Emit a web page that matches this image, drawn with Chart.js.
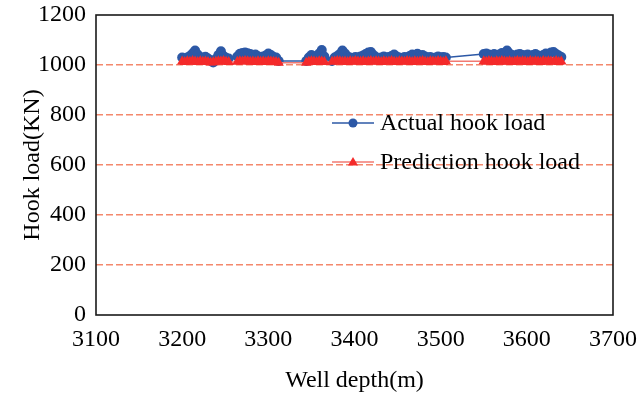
<!DOCTYPE html>
<html>
<head>
<meta charset="utf-8">
<script src="https://cdn.jsdelivr.net/npm/chart.js@4/dist/chart.umd.min.js"></script>
<style>
  html, body { margin: 0; padding: 0; background: #fff; }
  #wrap { width: 637px; height: 393px; position: relative; }
</style>
</head>
<body>
<div id="wrap"><canvas id="chart" width="637" height="393"></canvas></div>
<script>
// ---- data ----
const depth = [
  3200, 3203, 3206, 3209, 3212, 3215, 3218, 3221, 3224, 3227, 3230, 3233, 3236, 3239, 3242, 3245, 3248, 3251, 3254,
  3264, 3267, 3270, 3273, 3276, 3279, 3282, 3285, 3288, 3291, 3294, 3297, 3300, 3303, 3306, 3309, 3312,
  3344, 3347, 3350, 3353, 3356, 3359, 3362, 3365,
  3374, 3377, 3380, 3383, 3386, 3389, 3392, 3395, 3398, 3401, 3404, 3407, 3410, 3413, 3416, 3419, 3422, 3425, 3428, 3431, 3434, 3437, 3440,
  3443, 3446, 3449, 3452, 3455, 3458, 3461, 3464, 3467, 3470, 3473, 3476, 3479, 3482, 3485, 3488, 3491, 3494, 3497, 3500, 3503, 3506,
  3550, 3553, 3556, 3559, 3562, 3565, 3568, 3571, 3574, 3577, 3580, 3583, 3586, 3589, 3592, 3595, 3598, 3601, 3604, 3607, 3610, 3613, 3616,
  3619, 3622, 3625, 3628, 3631, 3634, 3637, 3640
];

const actualLoad = [
  1030, 1026, 1030, 1036, 1046, 1058, 1042, 1032, 1028, 1033, 1026, 1018, 1010, 1024, 1040, 1055, 1036, 1029, 1026,
  1034, 1045, 1048, 1050, 1047, 1044, 1040, 1042, 1035, 1030, 1034, 1038, 1046, 1040, 1032, 1030, 1016,
  1016, 1030, 1040, 1032, 1036, 1046, 1060, 1034,
  1016, 1030, 1036, 1044, 1058, 1046, 1034, 1030, 1028, 1032, 1030, 1034, 1038, 1044, 1050, 1052, 1040, 1032, 1028, 1030, 1034, 1030, 1032,
  1036, 1042, 1034, 1030, 1028, 1032, 1030, 1036, 1042, 1038, 1045, 1036, 1040, 1034, 1030, 1032, 1028, 1030, 1034, 1030, 1032, 1030,
  1044, 1046, 1042, 1040, 1044, 1038, 1042, 1048, 1040, 1058, 1046, 1040, 1036, 1042, 1044, 1040, 1038, 1042, 1036, 1040, 1044, 1038, 1036,
  1040, 1046, 1042, 1050, 1052, 1044, 1038, 1032
];

const predLoad = [
  1014, 1012, 1015, 1013, 1016, 1014, 1012, 1015, 1013, 1014, 1012, 1010, 1011, 1013, 1015, 1014, 1016, 1013, 1012,
  1013, 1015, 1014, 1016, 1015, 1013, 1014, 1012, 1015, 1013, 1014, 1012, 1015, 1014, 1013, 1012, 1009,
  1009, 1013, 1015, 1014, 1012, 1015, 1014, 1012,
  1013, 1014, 1016, 1015, 1013, 1014, 1012, 1015, 1013, 1016, 1014, 1013, 1015, 1012, 1014, 1016, 1013, 1015, 1014, 1012, 1015, 1013, 1014,
  1016, 1013, 1012, 1015, 1014, 1013, 1016, 1014, 1012, 1015, 1013, 1014, 1016, 1013, 1012, 1015, 1014, 1013, 1016, 1014, 1012, 1015,
  1015, 1013, 1016, 1014, 1012, 1015, 1013, 1016, 1014, 1013, 1015, 1012, 1014, 1016, 1013, 1015, 1014, 1012, 1016, 1013, 1015, 1014, 1012,
  1016, 1013, 1015, 1014, 1013, 1016, 1012, 1014
];

const seriesNames = ['Actual hook load', 'Prediction hook load'];
const xRange = [3100, 3700];
const yRange = [0, 1200];

const blue = '#2C58A6';
const red = '#F42A2A';
const redLine = '#F27A72';
const gridColor = '#F4886C';

// frame around the plot area + legend inside it
const framePlugin = {
  id: 'frame',
  afterDraw(chart) {
    const { ctx, chartArea: a } = chart;
    ctx.save();
    ctx.strokeStyle = '#1a1a1a';
    ctx.lineWidth = 1.6;
    ctx.strokeRect(a.left, a.top, a.right - a.left, a.bottom - a.top);

    // legend
    const rows = [
      { y: 123, line: blue, fill: blue, style: 'circle' },
      { y: 162, line: redLine, fill: red, style: 'triangle' }
    ];
    rows.forEach((r, i) => {
      ctx.strokeStyle = r.line;
      ctx.lineWidth = 1.5;
      ctx.beginPath();
      ctx.moveTo(332, r.y);
      ctx.lineTo(374, r.y);
      ctx.stroke();
      ctx.fillStyle = r.fill;
      ctx.beginPath();
      if (r.style === 'circle') {
        ctx.arc(353, r.y, 4.5, 0, Math.PI * 2);
      } else {
        ctx.moveTo(353, r.y - 5);
        ctx.lineTo(358, r.y + 3.5);
        ctx.lineTo(348, r.y + 3.5);
        ctx.closePath();
      }
      ctx.fill();
      ctx.fillStyle = '#000';
      ctx.font = '24px "Liberation Serif"';
      ctx.textBaseline = 'middle';
      ctx.fillText(seriesNames[i], 380, r.y + 1);
    });
    ctx.restore();
  }
};

// let layout.padding alone decide where the plot area sits
const noScalePadding = scale => {
  scale.paddingTop = 0;
  scale.paddingBottom = 0;
  scale.paddingLeft = 0;
  scale.paddingRight = 0;
};

Chart.defaults.font.family = '"Liberation Serif", "Times New Roman", serif';
Chart.defaults.font.size = 24;
Chart.defaults.color = '#000';

new Chart(document.getElementById('chart'), {
  type: 'line',
  data: {
    datasets: [
      {
        label: seriesNames[0],
        data: depth.map((d, i) => ({ x: d, y: actualLoad[i] })),
        borderColor: blue,
        backgroundColor: blue,
        borderWidth: 1.5,
        pointStyle: 'circle',
        pointRadius: 5,
        pointBorderWidth: 0,
        order: 2
      },
      {
        label: seriesNames[1],
        data: depth.map((d, i) => ({ x: d, y: predLoad[i] })),
        borderColor: redLine,
        backgroundColor: red,
        borderWidth: 1.5,
        pointStyle: 'triangle',
        pointRadius: 6,
        pointBorderWidth: 0,
        order: 1
      }
    ]
  },
  options: {
    responsive: false,
    animation: false,
    devicePixelRatio: 1,
    layout: { padding: { left: 0, right: 24, top: 15, bottom: 0 } },
    plugins: {
      legend: { display: false },
      tooltip: { enabled: false }
    },
    scales: {
      x: {
        type: 'linear',
        min: xRange[0],
        max: xRange[1],
        ticks: { stepSize: 100, padding: 13, maxRotation: 0, font: { lineHeight: 1 }, callback: v => String(v) },
        grid: { display: false, drawTicks: false },
        border: { display: false },
        title: { display: true, text: 'Well depth(m)', padding: 0, font: { lineHeight: 1 } },
        afterFit(scale) { scale.height = 78; noScalePadding(scale); }
      },
      y: {
        min: yRange[0],
        max: yRange[1],
        ticks: { stepSize: 200, padding: 10, callback: v => String(v) },
        grid: {
          drawTicks: false,
          lineWidth: 1.6,
          color: c => (c.tick && (c.tick.value === yRange[0] || c.tick.value === yRange[1])) ? 'rgba(0,0,0,0)' : gridColor
        },
        border: { display: false, dash: [7, 3] },
        title: { display: true, text: 'Hook load(KN)', padding: { top: 21, bottom: 0 }, font: { lineHeight: 1 } },
        afterFit(scale) { scale.width = 96; noScalePadding(scale); }
      }
    }
  },
  plugins: [framePlugin]
});
</script>
</body>
</html>
